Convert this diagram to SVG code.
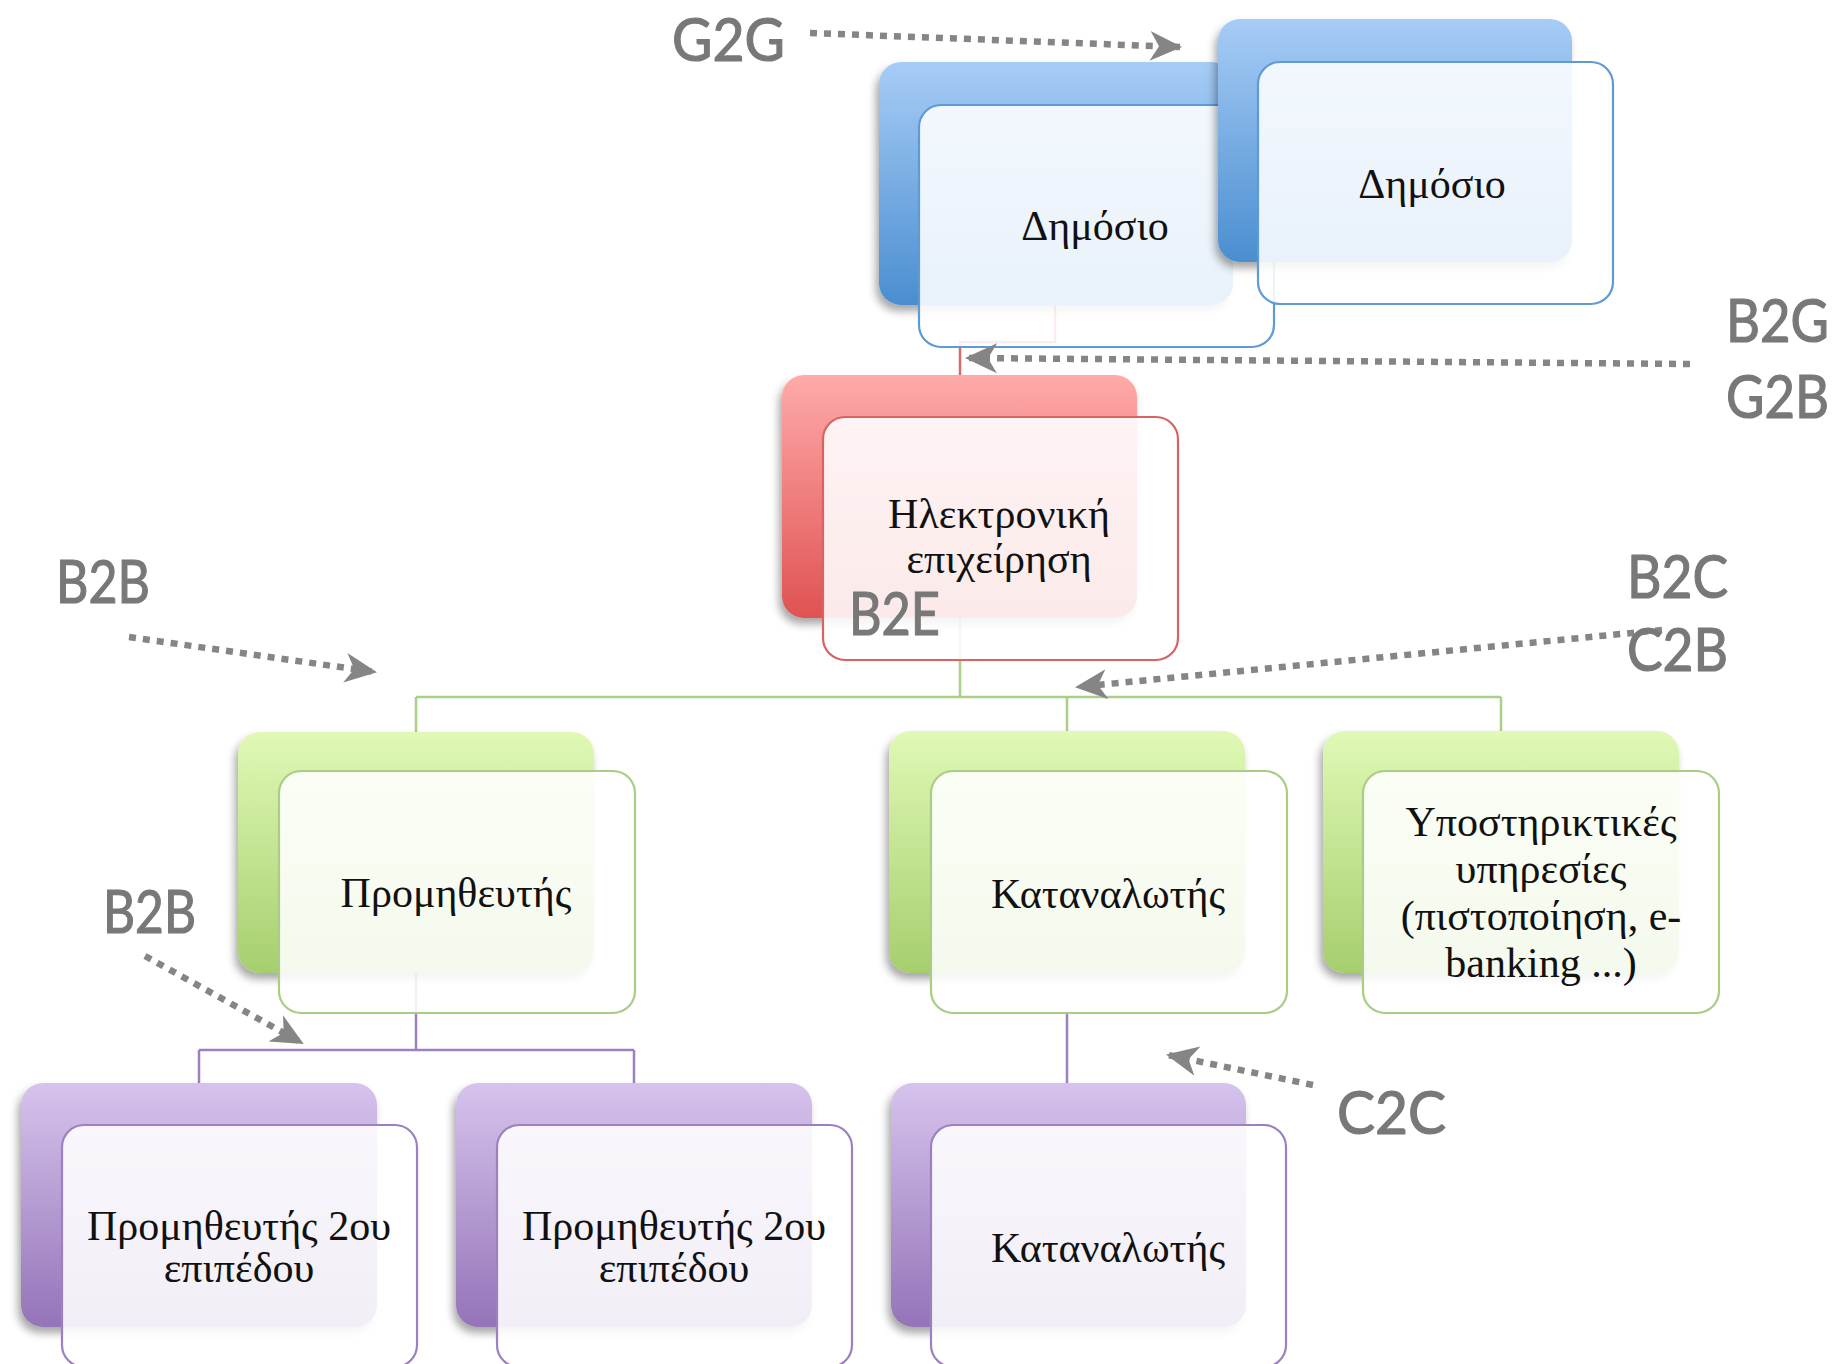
<svg xmlns="http://www.w3.org/2000/svg" width="1843" height="1364" viewBox="0 0 1843 1364">
<style>
.lbl{font-family:Lato,"Liberation Sans",sans-serif;font-size:60px;fill:#787878;stroke:#787878;stroke-width:1.2}
.nt{font-family:"Liberation Serif","DejaVu Serif",serif;font-size:42px;fill:#111;text-anchor:middle}
.front{fill:#ffffff;fill-opacity:0.88;stroke-width:2.2}
.conn{fill:none;stroke-width:2.5}
.arr{fill:none;stroke:#858585;stroke-width:6.5;stroke-dasharray:7 7;marker-end:url(#ah)}
</style>
<defs>
<linearGradient id="gB" x1="0" y1="0" x2="0" y2="1"><stop offset="0" stop-color="#a7ccf6"/><stop offset="1" stop-color="#4a8ed0"/></linearGradient>
<linearGradient id="gR" x1="0" y1="0" x2="0" y2="1"><stop offset="0" stop-color="#ffaaaa"/><stop offset="1" stop-color="#e05252"/></linearGradient>
<linearGradient id="gG" x1="0" y1="0" x2="0" y2="1"><stop offset="0" stop-color="#e0f9b6"/><stop offset="1" stop-color="#a6ce6e"/></linearGradient>
<linearGradient id="gP" x1="0" y1="0" x2="0" y2="1"><stop offset="0" stop-color="#d6c3ed"/><stop offset="1" stop-color="#9474b8"/></linearGradient>
<filter id="sh" x="-10%" y="-10%" width="120%" height="125%"><feDropShadow dx="-3" dy="6" stdDeviation="4" flood-color="#000" flood-opacity="0.35"/></filter>
<marker id="ah" markerUnits="userSpaceOnUse" viewBox="0 0 32 32" refX="30" refY="16" markerWidth="32" markerHeight="32" orient="auto"><path d="M0,1 L32,16 L0,31 L9,16 Z" fill="#858585"/></marker>
</defs>

<g id="connectors">
<path class="conn" stroke="#d96a6a" d="M1055 305 V342 H960 V375"/>
<path class="conn" stroke="#a9d086" d="M960 618 V697 M416 697 H1501 M416 697 V732 M1067 697 V731 M1501 697 V731"/>
<path class="conn" stroke="#9c80c1" d="M416 972 V1050 M199 1050 H634 M199 1050 V1083 M634 1050 V1083 M1067 1013 V1083"/>
</g>

<g id="node-dimosio-1">
<rect x="879" y="62" width="354" height="243" rx="22" fill="url(#gB)" filter="url(#sh)"/>
<rect class="front" x="919" y="105" width="355" height="242" rx="22" stroke="#5d9ad6"/>
<text class="nt" x="1095" y="240">Δημόσιο</text>
</g>
<g id="node-dimosio-2">
<rect x="1218" y="19" width="354" height="243" rx="22" fill="url(#gB)" filter="url(#sh)"/>
<rect class="front" x="1258" y="62" width="355" height="242" rx="22" stroke="#5d9ad6"/>
<text class="nt" x="1432" y="198">Δημόσιο</text>
</g>
<g id="node-epixeirisi">
<rect x="782" y="375" width="355" height="243" rx="22" fill="url(#gR)" filter="url(#sh)"/>
<rect class="front" x="823" y="417" width="355" height="243" rx="22" stroke="#d96363"/>
<text class="nt" x="999" y="528">Ηλεκτρονική</text>
<text class="nt" x="999" y="573">επιχείρηση</text>
</g>
<g id="node-promitheutis">
<rect x="238" y="732" width="356" height="241" rx="22" fill="url(#gG)" filter="url(#sh)"/>
<rect class="front" x="279" y="771" width="356" height="242" rx="22" stroke="#a9cd85"/>
<text class="nt" x="456" y="907">Προμηθευτής</text>
</g>
<g id="node-katanalotis">
<rect x="889" y="731" width="356" height="242" rx="22" fill="url(#gG)" filter="url(#sh)"/>
<rect class="front" x="931" y="771" width="356" height="242" rx="22" stroke="#a9cd85"/>
<text class="nt" x="1108" y="908">Καταναλωτής</text>
</g>
<g id="node-ypostiriktikes">
<rect x="1323" y="731" width="356" height="242" rx="22" fill="url(#gG)" filter="url(#sh)"/>
<rect class="front" x="1363" y="771" width="356" height="242" rx="22" stroke="#a9cd85"/>
<text class="nt" x="1541" y="836">Υποστηρικτικές</text>
<text class="nt" x="1541" y="883">υπηρεσίες</text>
<text class="nt" x="1541" y="930">(πιστοποίηση, e-</text>
<text class="nt" x="1541" y="977">banking ...)</text>
</g>
<g id="node-promitheutis2-a">
<rect x="21" y="1083" width="356" height="244" rx="22" fill="url(#gP)" filter="url(#sh)"/>
<rect class="front" x="62" y="1125" width="355" height="242" rx="22" stroke="#9c80c1"/>
<text class="nt" x="239" y="1240">Προμηθευτής 2ου</text>
<text class="nt" x="239" y="1282">επιπέδου</text>
</g>
<g id="node-promitheutis2-b">
<rect x="456" y="1083" width="356" height="244" rx="22" fill="url(#gP)" filter="url(#sh)"/>
<rect class="front" x="497" y="1125" width="355" height="242" rx="22" stroke="#9c80c1"/>
<text class="nt" x="674" y="1240">Προμηθευτής 2ου</text>
<text class="nt" x="674" y="1282">επιπέδου</text>
</g>
<g id="node-katanalotis2">
<rect x="891" y="1083" width="355" height="244" rx="22" fill="url(#gP)" filter="url(#sh)"/>
<rect class="front" x="931" y="1125" width="355" height="242" rx="22" stroke="#9c80c1"/>
<text class="nt" x="1108" y="1262">Καταναλωτής</text>
</g>

<g id="arrows">
<path class="arr" d="M810 33 L1180 47"/>
<path class="arr" d="M1690 364 L967 358"/>
<path class="arr" d="M129 637 L375 672"/>
<path class="arr" d="M145 956 L302 1043"/>
<path class="arr" d="M1662 630 L1077 687"/>
<path class="arr" d="M1313 1085 L1168 1055"/>
</g>

<g id="labels">
<text class="lbl" x="672" y="61" textLength="113" lengthAdjust="spacingAndGlyphs">G2G</text>
<text class="lbl" x="1726" y="342" textLength="103" lengthAdjust="spacingAndGlyphs">B2G</text>
<text class="lbl" x="1726" y="418" textLength="103" lengthAdjust="spacingAndGlyphs">G2B</text>
<text class="lbl" x="56" y="603" textLength="94" lengthAdjust="spacingAndGlyphs">B2B</text>
<text class="lbl" x="103" y="933" textLength="93" lengthAdjust="spacingAndGlyphs">B2B</text>
<text class="lbl" x="1627" y="598" textLength="101" lengthAdjust="spacingAndGlyphs">B2C</text>
<text class="lbl" x="1627" y="671" textLength="101" lengthAdjust="spacingAndGlyphs">C2B</text>
<text class="lbl" x="1337" y="1134" textLength="109" lengthAdjust="spacingAndGlyphs">C2C</text>
<text class="lbl" x="849" y="635" textLength="91" lengthAdjust="spacingAndGlyphs">B2E</text>
</g>
</svg>
